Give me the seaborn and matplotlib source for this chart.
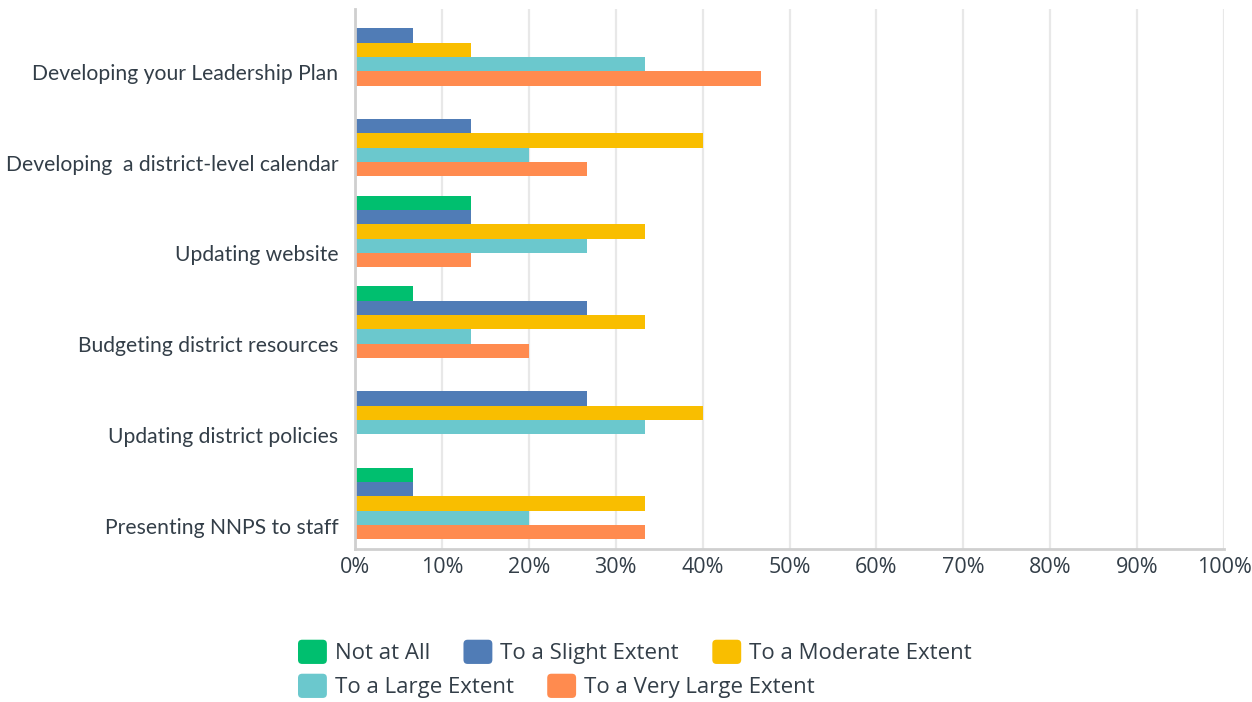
import numpy as np
import pandas as pd
import matplotlib
matplotlib.use("Agg")
import matplotlib.pyplot as plt
import seaborn as sns
from matplotlib.transforms import ScaledTranslation
from matplotlib.legend_handler import HandlerPatch
from matplotlib.patches import FancyBboxPatch, Patch

categories = [
    "Developing your Leadership Plan",
    "Developing  a district-level calendar",
    "Updating website",
    "Budgeting district resources",
    "Updating district policies",
    "Presenting NNPS to staff",
]
series = [
    "Not at All",
    "To a Slight Extent",
    "To a Moderate Extent",
    "To a Large Extent",
    "To a Very Large Extent",
]
not_at_all = [0.0, 0.0, 13.33, 6.67, 0.0, 6.67]
slight = [6.67, 13.33, 13.33, 26.67, 26.67, 6.67]
moderate = [13.33, 40.0, 33.33, 33.33, 40.0, 33.33]
large = [33.33, 20.0, 26.67, 13.33, 33.33, 20.0]
very_large = [46.67, 26.67, 13.33, 20.0, 0.0, 33.33]
x_ticks = [0, 10, 20, 30, 40, 50, 60, 70, 80, 90, 100]
x_tick_labels = ["0%", "10%", "20%", "30%", "40%", "50%", "60%", "70%", "80%", "90%", "100%"]

colors = ["#00BF6F", "#507CB6", "#F9BE00", "#6BC8CD", "#FF8B4F"]
text_color = "#333E48"

values = [not_at_all, slight, moderate, large, very_large]
rows = []
for s, vals in zip(series, values):
    for c, v in zip(categories, vals):
        rows.append({"category": c, "response": s, "value": v})
df = pd.DataFrame(rows)

sns.set_theme(style="white")
plt.rcParams["font.family"] = ["Lato", "DejaVu Sans"]

fig = plt.figure(figsize=(12.52, 7.02), dpi=100)
ax = fig.add_axes([355 / 1252, 1 - 549 / 702, (1224 - 355) / 1252, (549 - 9) / 702])

sns.barplot(data=df, y="category", x="value", hue="response", orient="h",
            palette=colors, width=0.79, dodge=True, ax=ax, legend=False,
            order=categories, hue_order=series, saturation=1, linewidth=0)

ax.set_xlim(0, 100)
ax.set_ylim(5.5, -0.45)
ax.set_xticks(x_ticks)
ax.set_xticklabels(x_tick_labels)
for lab in ax.get_xticklabels():
    lab.set_fontfamily(["Open Sans", "DejaVu Sans"])
    lab.set_fontsize(15.5)
    lab.set_color(text_color)
ax.set_xlabel("")
ax.set_ylabel("")
ax.tick_params(axis="x", length=0, pad=6)
ax.tick_params(axis="y", length=0, pad=12, labelsize=15.2, labelcolor=text_color)
ax.grid(axis="x", color="#E8E8E8", linewidth=1.6)
ax.set_axisbelow(True)
for side in ["top", "right"]:
    ax.spines[side].set_visible(False)
for side in ["left", "bottom"]:
    ax.spines[side].set_color("#CFCFCF")
    ax.spines[side].set_linewidth(2)

offset = ScaledTranslation(0, -0.22, fig.dpi_scale_trans)
for lab in ax.get_yticklabels():
    lab.set_transform(lab.get_transform() + offset)


class RoundHandler(HandlerPatch):
    def create_artists(self, legend, orig_handle, xdescent, ydescent, width, height, fontsize, trans):
        p = FancyBboxPatch((-xdescent, -ydescent), width, height,
                           boxstyle="round,pad=0,rounding_size=3",
                           facecolor=orig_handle.get_facecolor(), edgecolor="none",
                           transform=trans)
        return [p]


handles = [Patch(facecolor=c, label=s) for c, s in zip(colors, series)]
common = dict(frameon=False, prop={"family": ["Open Sans", "DejaVu Sans"], "size": 16},
              handlelength=1.3, handleheight=1.3,
              handletextpad=0.36, columnspacing=1.5, borderpad=0, borderaxespad=0,
              loc="center left", labelcolor=text_color,
              handler_map={Patch: RoundHandler()})
leg1 = fig.legend(handles=handles[:3], ncol=3, bbox_to_anchor=(298 / 1252, 1 - 652 / 702), **common)
leg2 = fig.legend(handles=handles[3:], ncol=2, bbox_to_anchor=(298 / 1252, 1 - 686 / 702), **common)

fig.savefig("out.png", dpi=100)
